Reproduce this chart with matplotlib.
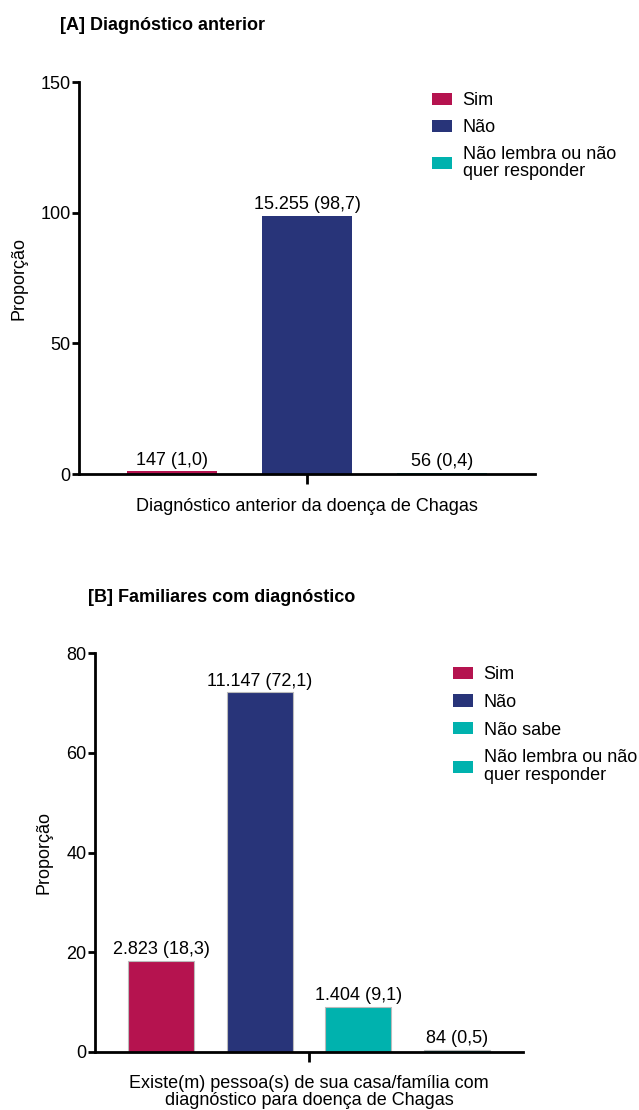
import numpy as np
import matplotlib.pyplot as plt
from matplotlib.patches import Patch

plt.rcParams['font.family'] = ['Liberation Sans', 'DejaVu Sans']
FS = 13

# ==== Data ====
cats_a = ["Sim", "Não", "Não lembra ou não\nquer responder"]
vals_a = [1.0, 98.7, 0.4]
txt_a = ["147 (1,0)", "15.255 (98,7)", "56 (0,4)"]

cats_b = ["Sim", "Não", "Não sabe", "Não lembra ou não\nquer responder"]
vals_b = [18.3, 72.1, 9.1, 0.5]
txt_b = ["2.823 (18,3)", "11.147 (72,1)", "1.404 (9,1)", "84 (0,5)"]

C_SIM = "#B5134F"
C_NAO = "#283479"
C_TEAL = "#00B2AE"
colors_a = [C_SIM, C_NAO, C_TEAL]
colors_b = [C_SIM, C_NAO, C_TEAL, C_TEAL]

W, H = 639, 1110
fig = plt.figure(figsize=(W / 100, H / 100), dpi=100)


def px_axes(x0, y_top, x1, y_bot):
    return fig.add_axes([x0 / W, 1 - y_bot / H, (x1 - x0) / W, (y_bot - y_top) / H])


def style(ax):
    for s in ["top", "right"]:
        ax.spines[s].set_visible(False)
    for s in ["left", "bottom"]:
        ax.spines[s].set_linewidth(2)
    ax.tick_params(axis="y", width=2, length=5, labelsize=FS, pad=1)
    ax.tick_params(axis="x", width=2, length=7, labelsize=FS)


def panel(ax, vals, colors, txt, ymax, yticks, edge):
    x = np.arange(len(vals))
    ax.bar(x, vals, width=0.667, color=colors,
           edgecolor=edge, linewidth=0.8 if edge else 0)
    for xi, v, t in zip(x, vals, txt):
        ax.annotate(t, (xi, v), xytext=(0, 2), textcoords="offset points",
                    ha="center", va="bottom", fontsize=FS)
    n = len(vals)
    m = 0.69 if n == 3 else 0.67
    ax.set_xlim(-m, (n - 1) + m)
    ax.set_ylim(0, ymax)
    ax.set_yticks(yticks)
    ax.set_xticks([(n - 1) / 2])
    ax.set_xticklabels([""])
    ax.set_ylabel("Proporção", fontsize=FS)
    style(ax)


def legend(handles, labels, x, y, ls):
    leg = fig.legend(handles, labels, loc="upper left",
                     bbox_to_anchor=(x / W, 1 - y / H), frameon=False,
                     fontsize=FS, handlelength=1.1, handleheight=0.65,
                     handletextpad=0.6, labelspacing=ls, borderpad=0,
                     borderaxespad=0)
    for t in leg.get_texts():
        t.set_linespacing(1.0)
    return leg


# ---- Panel A ----
axA = px_axes(79, 82, 535, 474)
panel(axA, vals_a, colors_a, txt_a, 150, [0, 50, 100, 150], None)
axA.set_xlabel("Diagnóstico anterior da doença de Chagas", fontsize=FS)
axA.xaxis.set_label_coords(0.5, -(498 - 474) / 392)
axA.yaxis.set_label_coords(-(79 - 28) / 456, 0.5)
fig.text(60 / W, 1 - 26 / H, "[A] Diagnóstico anterior", fontsize=FS,
         fontweight="bold", va="center", ha="left")
legend([Patch(facecolor=c) for c in colors_a], cats_a, 432, 92, 0.55)

# ---- Panel B ----
axB = px_axes(95, 653, 523, 1052)
panel(axB, vals_b, colors_b, txt_b, 80, [0, 20, 40, 60, 80], "#BBBBBB")
axB.set_xlabel("Existe(m) pessoa(s) de sua casa/família com\ndiagnóstico para doença de Chagas",
               fontsize=FS, linespacing=1.0)
axB.xaxis.set_label_coords(0.5, -(1075 - 1052) / 399)
axB.yaxis.set_label_coords(-(95 - 53) / 428, 0.5)
fig.text(88 / W, 1 - 598 / H, "[B] Familiares com diagnóstico", fontsize=FS,
         fontweight="bold", va="center", ha="left")
legend([Patch(facecolor=c) for c in colors_b], cats_b, 453, 666, 0.6)

fig.savefig("out.png", dpi=100, facecolor="white")
